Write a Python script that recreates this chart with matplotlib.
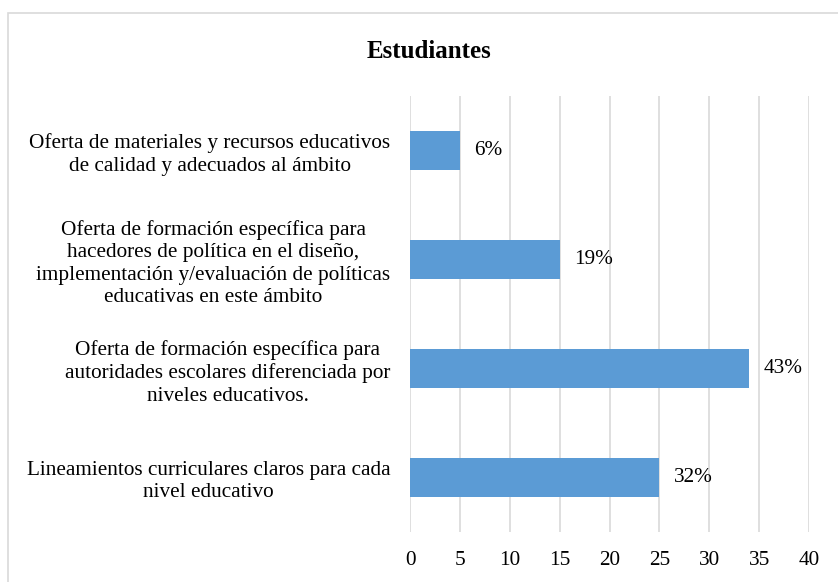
import matplotlib.pyplot as plt
import matplotlib.patches as patches

# data (bottom to top, as drawn)
categories = ['Lineamientos curriculares claros para cada\nnivel educativo',
              'Oferta de formación específica para\nautoridades escolares diferenciada por\nniveles educativos.',
              'Oferta de formación específica para\nhacedores de política en el diseño,\nimplementación y/evaluación de políticas\neducativas en este ámbito',
              'Oferta de materiales y recursos educativos\nde calidad y adecuados al ámbito']
values = [25, 34, 15, 5]
value_labels = ['32%', '43%', '19%', '6%']
x_ticks = [0, 5, 10, 15, 20, 25, 30, 35, 40]

plt.rcParams['font.family'] = ['Liberation Serif', 'DejaVu Serif']
font_size = 15.3

fig = plt.figure(figsize=(8.38, 5.82), dpi=100)
ax = fig.add_axes([410/838, 50/582, 399/838, 436/582])

y = range(len(values))
ax.barh(y, values, height=0.356, color='#5b9bd5', zorder=3)
for yi, v, lab in zip(y, values, value_labels):
    ax.text(v + 1.45, yi, lab, va='center', ha='left', fontsize=font_size)

ax.set_xlim(0, 40)
ax.set_ylim(-0.5, 3.5)
ax.set_xticks(x_ticks)
ax.set_yticks(list(y))
ax.set_yticklabels(categories, fontsize=font_size, linespacing=1.24)
for lab in ax.get_yticklabels():
    lab.set_multialignment('center')
ax.tick_params(axis='x', labelsize=font_size, length=0, pad=14)
ax.tick_params(axis='y', length=0, pad=14)
ax.grid(axis='x', color='#d9d9d9', linewidth=1.2, zorder=0)
for s in ax.spines.values():
    s.set_visible(False)

fig.text(429/838, 1 - 51/582, 'Estudiantes', ha='center', va='center',
         fontsize=18, fontweight='bold')

# chart frame
fig.patches.append(patches.Rectangle((8/838, -0.1), 1.0, 1.1 - 13/582,
                                     transform=fig.transFigure, fill=False,
                                     edgecolor='#d9d9d9', linewidth=1.2))

fig.savefig('out.png', dpi=100)
